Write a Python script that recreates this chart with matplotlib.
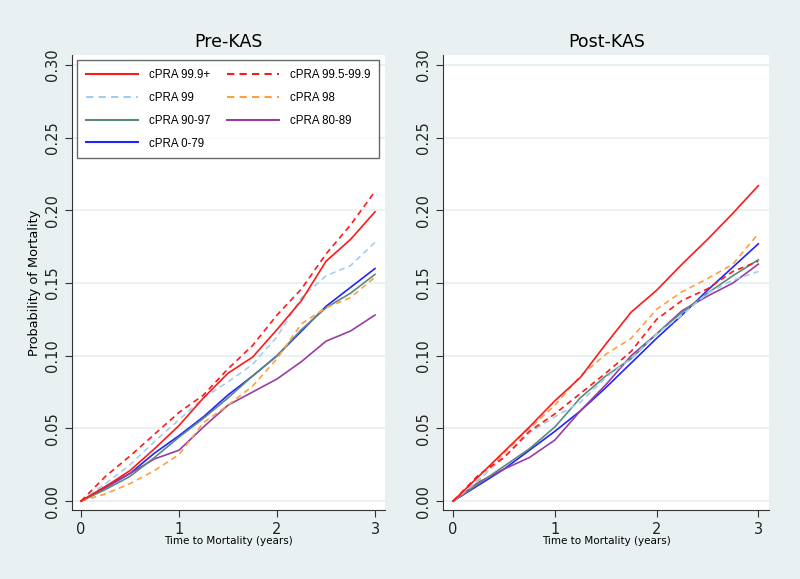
import matplotlib.pyplot as plt
from matplotlib.lines import Line2D

# time grid (years)
years = [0, 0.25, 0.5, 0.75, 1.0, 1.25, 1.5, 1.75, 2.0, 2.25, 2.5, 2.75, 3.0]

groups = ["cPRA 99.9+", "cPRA 99.5-99.9", "cPRA 99", "cPRA 98",
          "cPRA 90-97", "cPRA 80-89", "cPRA 0-79"]

# Pre-KAS cumulative probability of mortality
pre_999 = [0, 0.010, 0.021, 0.036, 0.052, 0.071, 0.088, 0.099, 0.118, 0.138, 0.165, 0.180, 0.199]
pre_995 = [0, 0.017, 0.031, 0.046, 0.061, 0.073, 0.091, 0.107, 0.128, 0.146, 0.170, 0.190, 0.213]
pre_99 = [0, 0.012, 0.025, 0.041, 0.056, 0.071, 0.082, 0.094, 0.113, 0.140, 0.155, 0.162, 0.178]
pre_98 = [0, 0.005, 0.012, 0.021, 0.032, 0.054, 0.066, 0.079, 0.098, 0.122, 0.133, 0.140, 0.154]
pre_9097 = [0, 0.008, 0.017, 0.030, 0.044, 0.057, 0.071, 0.086, 0.100, 0.118, 0.133, 0.143, 0.156]
pre_8089 = [0, 0.009, 0.019, 0.029, 0.035, 0.051, 0.066, 0.075, 0.084, 0.096, 0.110, 0.117, 0.128]
pre_079 = [0, 0.010, 0.019, 0.033, 0.045, 0.058, 0.073, 0.086, 0.100, 0.117, 0.134, 0.147, 0.160]

# Post-KAS cumulative probability of mortality
post_999 = [0, 0.017, 0.034, 0.051, 0.069, 0.085, 0.108, 0.130, 0.145, 0.163, 0.180, 0.198, 0.217]
post_995 = [0, 0.018, 0.030, 0.048, 0.060, 0.074, 0.088, 0.103, 0.125, 0.138, 0.146, 0.158, 0.165]
post_99 = [0, 0.015, 0.030, 0.047, 0.058, 0.068, 0.085, 0.098, 0.115, 0.128, 0.143, 0.152, 0.158]
post_98 = [0, 0.014, 0.033, 0.050, 0.066, 0.086, 0.101, 0.112, 0.132, 0.144, 0.153, 0.163, 0.184]
post_9097 = [0, 0.012, 0.024, 0.036, 0.051, 0.071, 0.086, 0.098, 0.115, 0.130, 0.143, 0.155, 0.166]
post_8089 = [0, 0.013, 0.022, 0.030, 0.042, 0.062, 0.080, 0.100, 0.115, 0.131, 0.141, 0.150, 0.163]
post_079 = [0, 0.011, 0.022, 0.035, 0.048, 0.062, 0.078, 0.095, 0.112, 0.128, 0.145, 0.161, 0.177]

pre = [pre_999, pre_995, pre_99, pre_98, pre_9097, pre_8089, pre_079]
post = [post_999, post_995, post_99, post_98, post_9097, post_8089, post_079]

dash = (0, (3.5, 2.5))
styles = [
    dict(color="#ff1a1a", linestyle="-"),
    dict(color="#ff1a1a", linestyle=dash),
    dict(color="#a3cdee", linestyle=dash),
    dict(color="#ffa040", linestyle=dash),
    dict(color="#5b8a7c", linestyle="-"),
    dict(color="#983ea2", linestyle="-"),
    dict(color="#2323ff", linestyle="-"),
]

bg = "#e9f0f2"
fig = plt.figure(figsize=(8, 5.79), dpi=100, facecolor=bg)
ax1 = fig.add_axes([0.09, 0.119, 0.391, 0.786])
ax2 = fig.add_axes([0.554, 0.119, 0.4075, 0.786])

for ax, data, title, x0, x1 in [(ax1, pre, "Pre-KAS", -0.092, 3.10),
                                (ax2, post, "Post-KAS", -0.098, 3.107)]:
    # draw in reverse so the red curves sit on top
    for vals, st in reversed(list(zip(data, styles))):
        ax.plot(years, vals, lw=1.2, **st)
    ax.set_xlim(x0, x1)
    ax.set_ylim(-0.0062, 0.3069)
    ax.set_xticks([0, 1, 2, 3])
    ax.set_yticks([0, 0.05, 0.10, 0.15, 0.20, 0.25, 0.30])
    ax.set_yticklabels(["0.00", "0.05", "0.10", "0.15", "0.20", "0.25", "0.30"],
                       rotation=90, va="center")
    ax.grid(axis="y", color="#e6eff1", lw=1.2)
    ax.set_axisbelow(True)
    for s in ["top", "right"]:
        ax.spines[s].set_visible(False)
    for s in ["left", "bottom"]:
        ax.spines[s].set_color("#333333")
    ax.tick_params(labelsize=10.5, length=5, color="#333333", labelcolor="#222222")
    ax.set_title(title, fontsize=12.5, pad=6)
    ax.set_xlabel("Time to Mortality (years)", fontsize=7.5, labelpad=-1)

ax1.set_ylabel("Probability of Mortality", fontsize=9.3, labelpad=3)

# legend in the same row order as the original (two columns)
order = [0, 2, 4, 6, 1, 3, 5]
handles = [Line2D([], [], lw=1.5, **styles[i]) for i in order]
labels = [groups[i] for i in order]
leg = ax1.legend(handles, labels, ncol=2, loc="upper left",
                 bbox_to_anchor=(0.016, 0.989), borderaxespad=0,
                 prop={"family": "Liberation Sans", "size": 8.3},
                 frameon=True, fancybox=False, edgecolor="#444444",
                 handlelength=4.5, handletextpad=1.0, columnspacing=1.4,
                 labelspacing=0.95, borderpad=0.75)
leg.get_frame().set_linewidth(1.0)

fig.savefig("out.png", dpi=100, facecolor=bg)
